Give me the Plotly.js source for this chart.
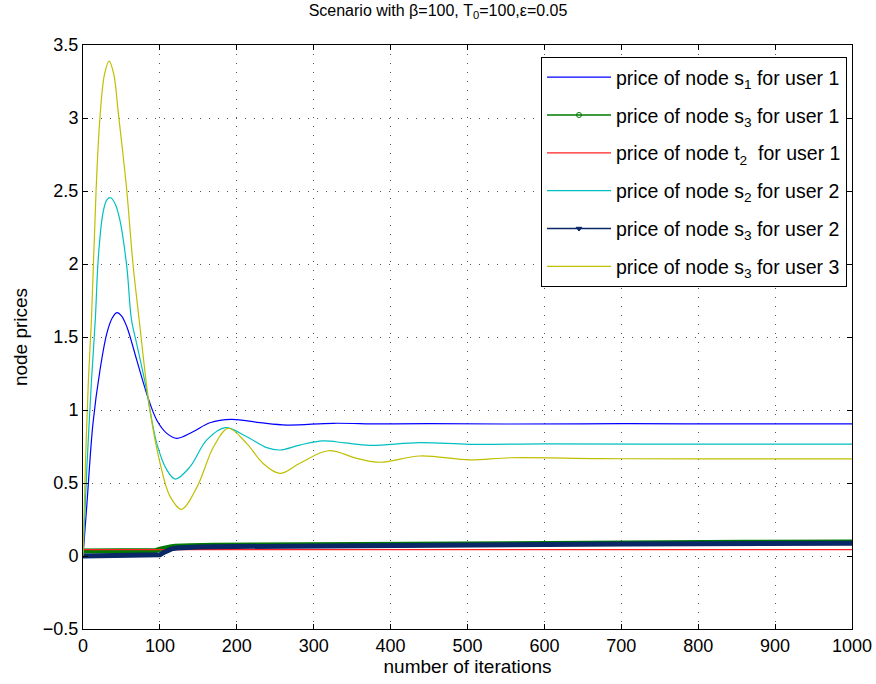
<!DOCTYPE html>
<html>
<head>
<meta charset="utf-8">
<script src="https://cdn.plot.ly/plotly-3.0.1.min.js"></script>
<style>html,body{margin:0;padding:0;background:#fff;}</style>
</head>
<body>
<div id="chart" style="width:876px;height:684px;"></div>
<script>
// ---- data ----
const legendNames = [
  'price of node s<sub>1</sub> for user 1',
  'price of node s<sub>3</sub> for user 1',
  'price of node t<sub>2</sub>\u00a0 for user 1',
  'price of node s<sub>2</sub> for user 2',
  'price of node s<sub>3</sub> for user 2',
  'price of node s<sub>3</sub> for user 3'
];

const iterS1U1 = [0, 5, 13, 22, 31, 38, 44, 50, 57, 70, 83, 96, 109, 122, 143, 165, 193, 230, 265, 325, 386, 450, 550, 700, 850, 1000];
const priceS1U1 = [0, 0.35, 0.91, 1.27, 1.525, 1.63, 1.667, 1.645, 1.57, 1.34, 1.11, 0.93, 0.84, 0.806, 0.851, 0.913, 0.936, 0.913, 0.897, 0.909, 0.905, 0.907, 0.904, 0.906, 0.905, 0.905];

const iterS3U1 = [0, 90, 95, 100, 105, 110, 115, 120, 130, 140, 170, 300, 500, 700, 860, 1000];
const priceS3U1 = [0.034, 0.034, 0.038, 0.046, 0.054, 0.06, 0.064, 0.067, 0.07, 0.071, 0.073, 0.078, 0.086, 0.09, 0.094, 0.096];

const iterT2U1 = [0, 1000];
const priceT2U1 = [0.043, 0.043];

const iterS2U2 = [0, 5, 11, 16, 20, 26, 31, 36, 42, 48, 57, 63, 70, 81, 96, 109, 120, 139, 161, 185, 213, 239, 256, 282, 312, 340, 373, 438, 503, 600, 800, 1000];
const priceS2U2 = [0, 0.6, 1.2, 1.62, 2.05, 2.35, 2.44, 2.454, 2.41, 2.30, 1.98, 1.62, 1.45, 1.18, 0.77, 0.59, 0.527, 0.61, 0.795, 0.879, 0.817, 0.742, 0.726, 0.76, 0.788, 0.775, 0.758, 0.776, 0.765, 0.768, 0.766, 0.766];

const iterS3U2 = [0, 95, 100, 105, 110, 115, 122, 130, 150, 170, 300, 500, 700, 1000];
const priceS3U2 = [0, 0, 0.008, 0.025, 0.04, 0.049, 0.055, 0.058, 0.062, 0.064, 0.07, 0.079, 0.083, 0.087];

const iterS3U3 = [0, 3, 7, 11, 17, 22, 28, 34, 40, 46, 52, 57, 65, 73, 87, 100, 113, 128, 148, 170, 189, 213, 234, 256, 282, 319, 356, 386, 438, 503, 555, 672, 800, 1000];
const priceS3U3 = [0, 0.6, 1.2, 1.62, 2.5, 3.0, 3.3, 3.39, 3.3, 3.03, 2.75, 2.5, 2.0, 1.62, 1.0, 0.64, 0.41, 0.32, 0.47, 0.75, 0.875, 0.77, 0.635, 0.566, 0.635, 0.721, 0.669, 0.642, 0.685, 0.658, 0.673, 0.667, 0.665, 0.665];

const xTicks = [0, 100, 200, 300, 400, 500, 600, 700, 800, 900, 1000];
const yTicks = [-0.5, 0, 0.5, 1, 1.5, 2, 2.5, 3, 3.5];

// ---- styles ----
const cBlue = '#0000ff', cGreen = '#007a00', cRed = '#ff2020', cCyan = '#00bfbf', cNavy = '#0a2766', cYellow = '#bfbf00';
const FONT = 'Liberation Sans, Arial, Helvetica, sans-serif';

function lineTrace(x, y, name, color, width, rank, showLegend, shape) {
  return {
    x: x, y: y, name: name, type: 'scatter', mode: 'lines',
    line: {color: color, width: width, shape: shape, smoothing: 1},
    showlegend: showLegend, legendgroup: 'g' + rank, legendrank: rank,
    hoverinfo: 'skip'
  };
}
function legendOnly(name, color, symbol, rank) {
  return {
    x: [null], y: [null], name: name, type: 'scatter', mode: 'lines+markers',
    line: {color: color, width: 1.5},
    marker: {color: color, symbol: symbol, size: 5, line: {color: color, width: 1}},
    showlegend: true, legendgroup: 'g' + rank, legendrank: rank, hoverinfo: 'skip'
  };
}

const traces = [
  lineTrace(iterS1U1, priceS1U1, legendNames[0], cBlue, 1.2, 1, true, 'spline'),
  lineTrace(iterS3U1, priceS3U1, legendNames[1], cGreen, 5, 2, false, 'linear'),
  lineTrace(iterT2U1, priceT2U1, legendNames[2], cRed, 1.2, 3, true, 'linear'),
  lineTrace(iterS2U2, priceS2U2, legendNames[3], cCyan, 1.2, 4, true, 'spline'),
  lineTrace(iterS3U2, priceS3U2, legendNames[4], cNavy, 5, 5, false, 'linear'),
  lineTrace(iterS3U3, priceS3U3, legendNames[5], cYellow, 1.2, 6, true, 'spline'),
  legendOnly(legendNames[1], cGreen, 'circle-open', 2),
  legendOnly(legendNames[4], cNavy, 'triangle-down', 5)
];

const axisCommon = {
  ticks: 'inside', ticklen: 5, tickwidth: 1, tickcolor: '#000',
  showline: true, mirror: 'ticks', linecolor: '#000', linewidth: 1,
  showgrid: true, gridcolor: '#555', gridwidth: 1, griddash: '1px,8px',
  zeroline: false,
  tickfont: {family: FONT, size: 18, color: '#000'}
};

const layout = {
  width: 876, height: 684,
  margin: {l: 83, r: 24, t: 45, b: 55, pad: 0},
  paper_bgcolor: '#fff', plot_bgcolor: '#fff',
  font: {family: FONT, color: '#000'},
  title: {
    text: 'Scenario with β=100, T<sub>0</sub>=100,ε=0.05',
    font: {family: FONT, size: 16, color: '#000'},
    x: 0.5, xref: 'container', xanchor: 'center',
    y: 0.993, yref: 'container', yanchor: 'top'
  },
  xaxis: Object.assign({}, axisCommon, {
    range: [0, 1000], tickvals: xTicks, ticktext: xTicks.map(String),
    title: {text: 'number of iterations', font: {family: FONT, size: 19, color: '#000'}, standoff: 1}
  }),
  yaxis: Object.assign({}, axisCommon, {
    range: [-0.5, 3.5], tickvals: yTicks, ticktext: yTicks.map(v => v < 0 ? '\u2212' + Math.abs(v) : String(v)),
    title: {text: 'node prices', font: {family: FONT, size: 19, color: '#000'}, standoff: 10}
  }),
  showlegend: true,
  legend: {
    x: 0.9935, xanchor: 'right', y: 0.9795, yanchor: 'top',
    bgcolor: '#fff', bordercolor: '#000', borderwidth: 1,
    font: {family: FONT, size: 19.5, color: '#000'},
    itemwidth: 64, tracegroupgap: 9.5, traceorder: 'grouped'
  }
};

Plotly.newPlot('chart', traces, layout, {staticPlot: true, displayModeBar: false});
</script>
</body>
</html>
